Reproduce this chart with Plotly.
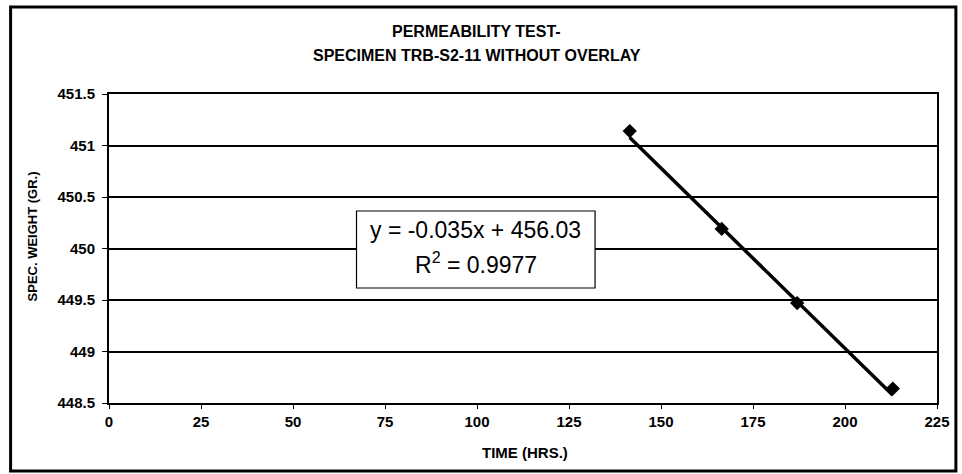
import plotly.graph_objects as go

# Specimen weight readings during the permeability test
time_hrs = [141.5, 166.5, 187.0, 213.0]
weight_gr = [451.14, 450.19, 449.47, 448.64]

# Linear trendline reported on the chart
slope = -0.035
intercept = 456.03
r_squared = 0.9977

x_ticks = [0, 25, 50, 75, 100, 125, 150, 175, 200, 225]
y_ticks = [448.5, 449, 449.5, 450, 450.5, 451, 451.5]

title_lines = ["PERMEABILITY TEST-", "SPECIMEN TRB-S2-11 WITHOUT OVERLAY"]

FONT = "Liberation Sans, Arial, sans-serif"

trend_x = [min(time_hrs), max(time_hrs)]
trend_y = [intercept + slope * x for x in trend_x]

fig = go.Figure()
fig.add_trace(go.Scatter(
    x=trend_x, y=trend_y, mode="lines",
    line=dict(color="black", width=3.5), hoverinfo="skip",
))
fig.add_trace(go.Scatter(
    x=time_hrs, y=weight_gr, mode="markers",
    marker=dict(symbol="diamond", size=11, color="black"),
))

W, H = 962, 474
L, R, T, B = 109, 20, 94, 71
pw, ph = W - L - R, H - T - B


def px_x(px):
    return (px - L) / pw


def px_y(py):
    return (H - B - py) / ph


fig.update_layout(
    width=W, height=H,
    margin=dict(l=L, r=R, t=T, b=B),
    paper_bgcolor="white", plot_bgcolor="white",
    showlegend=False,
    font=dict(family=FONT, color="black"),
    xaxis=dict(
        range=[0, 225], tickvals=x_ticks, ticktext=[str(v) for v in x_ticks],
        showgrid=False, zeroline=False,
        showline=True, linecolor="black", linewidth=2, mirror=True,
        ticks="outside", ticklen=4, tickcolor="black",
        tickfont=dict(family=FONT, size=15, color="black", weight="bold"),
    ),
    yaxis=dict(
        range=[448.5, 451.5], tickvals=y_ticks, ticktext=[f"{v:g}" for v in y_ticks],
        showgrid=True, gridcolor="black", gridwidth=2, zeroline=False,
        showline=True, linecolor="black", linewidth=2, mirror=True,
        ticks="outside", ticklen=5, tickcolor="black", ticklabelstandoff=4,
        tickfont=dict(family=FONT, size=15, color="black", weight="bold"),
    ),
)

annotations = [
    dict(text=title_lines[0], x=px_x(479), y=px_y(31), xref="paper", yref="paper",
         xanchor="center", yanchor="middle", showarrow=False,
         font=dict(family=FONT, size=16, color="black", weight="bold")),
    dict(text=title_lines[1], x=px_x(479), y=px_y(55), xref="paper", yref="paper",
         xanchor="center", yanchor="middle", showarrow=False,
         font=dict(family=FONT, size=16, color="black", weight="bold")),
    dict(text="TIME (HRS.)", x=px_x(528), y=px_y(452), xref="paper", yref="paper",
         xanchor="center", yanchor="middle", showarrow=False,
         font=dict(family=FONT, size=15, color="black", weight="bold")),
    dict(text="SPEC. WEIGHT (GR.)", x=px_x(32), y=px_y(236), xref="paper", yref="paper",
         xanchor="center", yanchor="middle", showarrow=False, textangle=-90,
         font=dict(family=FONT, size=13, color="black", weight="bold")),
    dict(text=f"y = {slope:g}x + {intercept:.2f}", x=px_x(478), y=px_y(230),
         xref="paper", yref="paper", xanchor="center", yanchor="middle",
         showarrow=False, font=dict(family=FONT, size=23, color="black")),
    dict(text=f"R<sup>2</sup> = {r_squared:.4f}", x=px_x(478), y=px_y(263),
         xref="paper", yref="paper", xanchor="center", yanchor="middle",
         showarrow=False, font=dict(family=FONT, size=23, color="black")),
]
fig.update_layout(annotations=annotations)

shapes = [
    # equation box
    dict(type="rect", xref="paper", yref="paper",
         x0=px_x(358), x1=px_x(598), y0=px_y(288), y1=px_y(211),
         line=dict(color="black", width=1.2), fillcolor="white", layer="above"),
    # chart frame
    dict(type="rect", xref="paper", yref="paper",
         x0=px_x(10), x1=px_x(961), y0=px_y(471), y1=px_y(7),
         line=dict(color="black", width=3), fillcolor="rgba(0,0,0,0)", layer="above"),
]
fig.update_layout(shapes=shapes)

fig.write_html("out.html")
